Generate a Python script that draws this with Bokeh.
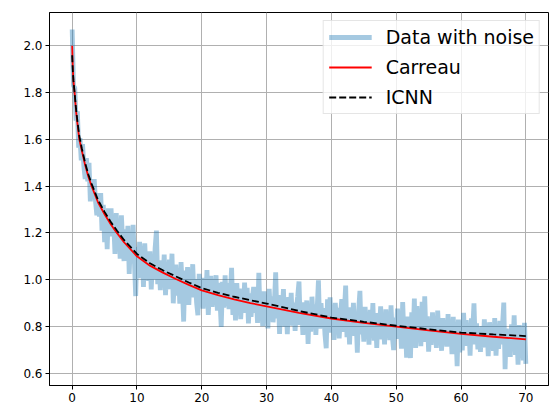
import numpy as np
from bokeh.plotting import figure
from bokeh.models import (Range1d, FixedTicker, NumeralTickFormatter,
                          Legend, LegendItem)
from bokeh.embed import file_html
from bokeh.resources import INLINE

# Shear-rate sampling of the noisy measurements (0 .. 70, step 0.2)
noise_x = np.linspace(0, 70, 351)

# Measured viscosity with noise
noise_y = [
    2.07, 1.83, 1.82, 1.68, 1.72, 1.565, 1.605, 1.51, 1.58, 1.485,
    1.43, 1.52, 1.42, 1.50, 1.335, 1.42, 1.345, 1.43, 1.335, 1.275,
    1.37, 1.27, 1.37, 1.21, 1.32, 1.16, 1.29, 1.13, 1.305, 1.185,
    1.305, 1.19, 1.25, 1.11, 1.285, 1.165, 1.24, 1.09, 1.275, 1.15,
    1.08, 1.215, 1.127, 1.23, 1.025, 1.17, 1.07, 1.235, 1.08, 0.93,
    1.14, 1.006, 1.162, 1.068, 1.134, 0.969, 1.155, 1.032, 1.088, 0.995,
    1.121, 0.958, 1.084, 1.001, 1.137, 1.21, 0.981, 1.078, 0.955, 1.083,
    0.99, 1.107, 0.934, 1.051, 0.959, 1.086, 0.993, 1.111, 0.899, 1.016,
    1.064, 0.932, 1.04, 0.897, 1.075, 0.963, 0.821, 1.039, 0.926, 1.054,
    0.892, 1.02, 0.958, 1.066, 0.924, 1.002, 0.90, 0.848, 1.025, 0.922,
    1.008, 0.876, 0.984, 0.912, 1.041, 0.849, 0.967, 1.016, 0.884, 0.983,
    0.911, 1.019, 0.868, 0.986, 0.914, 0.798, 0.991, 0.88, 1.018, 0.887,
    0.985, 0.874, 0.942, 1.051, 0.849, 0.958, 0.826, 0.985, 0.884, 0.962,
    0.831, 0.94, 0.858, 0.987, 0.886, 0.965, 0.813, 0.942, 0.841, 0.92,
    0.969, 0.858, 0.926, 0.815, 1.029, 0.843, 0.912, 0.801, 0.95, 0.828,
    0.923, 0.792, 0.961, 0.85, 0.929, 0.818, 0.897, 1.031, 0.835, 0.934,
    0.768, 0.922, 0.851, 0.96, 0.799, 0.898, 0.767, 0.926, 0.835, 0.944,
    0.803, 0.902, 0.781, 0.88, 0.929, 0.992, 0.806, 0.885, 0.764, 0.903,
    0.822, 0.911, 0.725, 0.889, 0.778, 0.927, 0.826, 0.895, 0.764, 0.873,
    0.997, 0.791, 0.90, 0.809, 0.878, 0.768, 0.707, 0.916, 0.795, 0.924,
    0.774, 0.863, 0.742, 0.901, 0.811, 0.88, 0.749, 0.848, 0.917, 0.777,
    0.866, 0.975, 0.754, 0.854, 0.723, 0.882, 0.781, 0.901, 0.76, 0.839,
    0.688, 0.867, 0.952, 0.766, 0.835, 0.735, 0.884, 0.783, 0.853, 0.722,
    0.871, 0.77, 0.90, 0.739, 0.838, 0.708, 0.857, 0.786, 0.886, 0.745,
    0.824, 0.723, 0.873, 0.772, 0.851, 0.741, 0.89, 0.759, 0.699, 0.838,
    0.747, 0.876, 0.776, 0.855, 0.705, 0.904, 0.753, 0.823, 0.667, 0.842,
    0.761, 0.665, 0.86, 0.749, 0.919, 0.708, 0.887, 0.767, 0.836, 0.716,
    0.905, 0.734, 0.929, 0.753, 0.843, 0.692, 0.801, 0.721, 0.86, 0.74,
    0.829, 0.708, 0.868, 0.757, 0.817, 0.696, 0.836, 0.725, 0.805, 0.714,
    0.853, 0.743, 0.822, 0.682, 0.841, 0.731, 0.79, 0.63, 0.829, 0.689,
    0.809, 0.698, 0.858, 0.717, 0.827, 0.736, 0.796, 0.675, 0.835, 0.784,
    0.899, 0.723, 0.813, 0.702, 0.792, 0.691, 0.801, 0.71, 0.83, 0.739,
    0.809, 0.673, 0.818, 0.727, 0.777, 0.696, 0.836, 0.675, 0.785, 0.704,
    0.824, 0.723, 0.803, 0.902, 0.617, 0.791, 0.691, 0.78, 0.67, 0.809,
    0.709, 0.848, 0.678, 0.777, 0.637, 0.806, 0.726, 0.796, 0.655, 0.815,
    0.64,
]

# Fitted model curves
curve_x = [0, 0.1, 0.2, 0.37, 0.6, 0.8, 1.1, 1.5, 2, 2.5, 3, 4, 5, 6, 6.9,
           8, 10, 12, 14, 16, 18, 20, 22.5, 25, 27.5, 30, 35, 40, 45, 50,
           55, 60, 65, 70]
carreau_y = [2.00, 1.90, 1.85, 1.80, 1.72, 1.67, 1.60, 1.55, 1.49, 1.44,
             1.40, 1.33, 1.28, 1.235, 1.20, 1.16, 1.10, 1.06, 1.03, 1.003,
             0.978, 0.954, 0.934, 0.916, 0.900, 0.886, 0.858, 0.834, 0.815,
             0.799, 0.783, 0.768, 0.756, 0.745]
icnn_y = [1.96, 1.89, 1.85, 1.80, 1.73, 1.68, 1.615, 1.56, 1.50, 1.45,
          1.41, 1.34, 1.29, 1.245, 1.21, 1.17, 1.11, 1.07, 1.04, 1.014,
          0.988, 0.964, 0.944, 0.927, 0.912, 0.898, 0.866, 0.838, 0.82,
          0.803, 0.788, 0.774, 0.766, 0.759]

x_ticks = [0, 10, 20, 30, 40, 50, 60, 70]
y_ticks = [0.6, 0.8, 1.0, 1.2, 1.4, 1.6, 1.8, 2.0]

FONT = "DejaVu Sans"

p = figure(width=553, height=405, output_backend="svg", toolbar_location=None,
           x_range=Range1d(-3.5, 73.5), y_range=Range1d(0.5475, 2.1425),
           min_border_left=49, min_border_right=5, min_border_top=12,
           min_border_bottom=20)
p.background_fill_color = "white"
p.border_fill_color = "white"
p.outline_line_color = "black"
p.outline_line_width = 1
p.outline_line_alpha = 1

r_noise = p.line(noise_x, noise_y, line_color="#1f77b4", line_alpha=0.4,
                 line_width=4.8)
r_carreau = p.line(curve_x, carreau_y, line_color="red", line_width=1.8)
r_icnn = p.line(curve_x, icnn_y, line_color="black", line_width=1.8,
                line_dash="7 3")

for ax in (p.xaxis[0], p.yaxis[0]):
    ax.axis_line_color = "black"
    ax.major_tick_line_color = "black"
    ax.major_tick_out = 4
    ax.major_tick_in = 0
    ax.minor_tick_line_color = None
    ax.major_label_text_font = FONT
    ax.major_label_text_font_size = "12px"
    ax.major_label_text_color = "black"
    ax.major_label_standoff = 3

p.xaxis.ticker = FixedTicker(ticks=x_ticks)
p.yaxis.ticker = FixedTicker(ticks=y_ticks)
p.yaxis.formatter = NumeralTickFormatter(format="0.0")

p.grid.grid_line_color = "#b0b0b0"
p.grid.grid_line_width = 1

legend = Legend(items=[
    LegendItem(label="Data with noise", renderers=[r_noise]),
    LegendItem(label="Carreau", renderers=[r_carreau]),
    LegendItem(label="ICNN", renderers=[r_icnn]),
], location="top_right")
legend.label_text_font = FONT
legend.label_text_font_size = "19px"
legend.label_text_color = "black"
legend.glyph_width = 43
legend.glyph_height = 22
legend.label_height = 22
legend.label_standoff = 14
legend.spacing = 8
legend.padding = 5
legend.margin = 8
legend.border_line_color = "#cccccc"
legend.border_line_width = 1
legend.background_fill_alpha = 0.8
p.add_layout(legend)

open("out.html", "w").write(file_html(p, INLINE))
